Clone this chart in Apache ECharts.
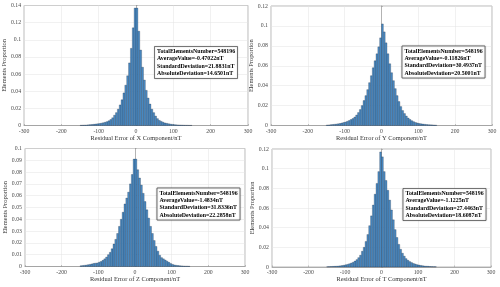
<!DOCTYPE html>
<html>
<head>
<meta charset="utf-8">
<script src="https://cdn.jsdelivr.net/npm/echarts@6/dist/echarts.min.js"></script>
<style>
html,body{margin:0;padding:0;background:#fff;}
#chart{width:500px;height:287px;}
</style>
</head>
<body>
<div id="chart"></div>
<script>
// Left edges of the 5 nT histogram bins
const binLeftEdges = [
  -150,-145,-140,-135,-130,-125,-120,-115,-110,-105,
  -100,-95,-90,-85,-80,-75,-70,-65,-60,-55,
  -50,-45,-40,-35,-30,-25,-20,-15,-10,-5,
  0,5,10,15,20,25,30,35,40,45,
  50,55,60,65,70,75,80,85,90,95,
  100,105,110,115,120,125,130,135,140,145
];
const binWidth = 5;

const xComponent = [
  0.0003,0.0004,0.0005,0.0006,0.0008,0.001,0.0012,0.0014,0.0017,0.002,
  0.0023,0.0027,0.0032,0.0038,0.0045,0.0055,0.007,0.009,0.012,0.015,
  0.019,0.024,0.03,0.038,0.047,0.058,0.073,0.09,0.114,0.137,
  0.137,0.11,0.088,0.068,0.053,0.041,0.032,0.025,0.019,0.015,
  0.011,0.008,0.006,0.0048,0.0038,0.003,0.0025,0.002,0.0016,0.0013,
  0.001,0.0008,0.0007,0.0006,0.0005,0.0004,0.0003,0.0003,0.0002,0.0002
];
const yComponent = [
  0.0005,0.0006,0.0008,0.001,0.0012,0.0014,0.0017,0.002,0.0025,0.003,
  0.0035,0.0042,0.005,0.006,0.007,0.0085,0.0105,0.013,0.016,0.02,
  0.025,0.03,0.036,0.043,0.05,0.058,0.065,0.072,0.079,0.088,
  0.102,0.094,0.083,0.072,0.062,0.053,0.045,0.037,0.03,0.024,
  0.019,0.015,0.012,0.0095,0.0075,0.006,0.0048,0.0038,0.003,0.0025,
  0.002,0.0017,0.0014,0.0012,0.001,0.0008,0.0007,0.0006,0.0005,0.0004
];
const zComponent = [
  0.0006,0.0008,0.001,0.0012,0.0015,0.0018,0.0022,0.0026,0.0028,0.003,
  0.0036,0.0043,0.0052,0.0065,0.008,0.01,0.012,0.015,0.019,0.023,
  0.028,0.034,0.04,0.046,0.053,0.058,0.063,0.07,0.078,0.091,
  0.091,0.082,0.075,0.069,0.062,0.055,0.048,0.041,0.034,0.028,
  0.022,0.017,0.013,0.0095,0.0075,0.0065,0.0055,0.0045,0.0035,0.0025,
  0.0018,0.0013,0.001,0.0008,0.0006,0.0005,0.0004,0.0003,0.0003,0.0002
];
const tComponent = [
  0.0003,0.0004,0.0005,0.0006,0.0007,0.0008,0.001,0.0012,0.0015,0.0018,
  0.0022,0.0027,0.0033,0.004,0.0048,0.006,0.0075,0.0095,0.012,0.016,
  0.02,0.026,0.033,0.042,0.052,0.063,0.074,0.085,0.097,0.117,
  0.112,0.097,0.088,0.078,0.068,0.058,0.048,0.038,0.03,0.023,
  0.018,0.014,0.011,0.0085,0.0068,0.0055,0.0045,0.0036,0.003,0.0024,
  0.002,0.0016,0.0013,0.001,0.0008,0.0007,0.0005,0.0004,0.0003,0.0003
];

const componentNames = ['X', 'Y', 'Z', 'T'];
const yMaxes = [0.14, 0.12, 0.1, 0.12];
const yIntervals = [0.02, 0.02, 0.01, 0.02];
const totalElements = ['548196', '548196', '548196', '548196'];
const averageValues = ['-0.47022nT', '-0.11826nT', '-1.4834nT', '-1.1225nT'];
const standardDeviations = ['21.8831nT', '30.4937nT', '31.8336nT', '27.4463nT'];
const absoluteDeviations = ['14.6501nT', '20.5001nT', '22.2858nT', '18.6087nT'];

const seriesValues = [xComponent, yComponent, zComponent, tComponent];

const grids = [
  {left: 22, top: 5.5, width: 226, height: 120},
  {left: 271, top: 6, width: 221, height: 119.5},
  {left: 25, top: 148.5, width: 220, height: 118},
  {left: 272, top: 149, width: 219, height: 118}
];
const boxes = [
  {left: 154, top: 46.5},
  {left: 401.5, top: 46},
  {left: 156.5, top: 188},
  {left: 402.5, top: 188.5}
];

const serif = '"Liberation Serif", "DejaVu Serif", serif';
const labelColor = '#4a4a4a';

const option = {
  animation: false,
  backgroundColor: '#fff',
  title: boxes.map((b, i) => ({
    left: b.left, top: b.top,
    text: ['TotalElementsNumber=' + totalElements[i],
           'AverageValue=' + averageValues[i],
           'StandardDeviation=' + standardDeviations[i],
           'AbsoluteDeviation=' + absoluteDeviations[i]].join('\n'),
    textStyle: {fontFamily: serif, fontSize: 5.9, fontWeight: 'bold', color: '#000', lineHeight: 7.3},
    backgroundColor: '#fff',
    borderColor: '#333',
    borderWidth: 0.6,
    padding: [1.5, 3, 1.5, 3],
    shadowColor: 'rgba(0,0,0,0.35)',
    shadowBlur: 1.5
  })),
  grid: grids.map(g => Object.assign({show: true, borderColor: '#8a8a8a', borderWidth: 0.6, backgroundColor: '#fff'}, g)),
  xAxis: grids.map((g, i) => ({
    type: 'value', gridIndex: i, min: -300, max: 300, interval: 100,
    name: 'Residual Error of ' + componentNames[i] + ' Component/nT',
    nameLocation: 'middle', nameGap: 8.5,
    nameTextStyle: {fontFamily: serif, fontSize: 6.4, color: '#333'},
    axisLine: {show: true, onZero: false, lineStyle: {color: '#8a8a8a', width: 0.6}},
    axisTick: {show: true, inside: true, length: 1.5, lineStyle: {color: '#8a8a8a', width: 0.5}},
    axisLabel: {fontFamily: serif, fontSize: 5.8, color: labelColor, margin: 2.5},
    splitLine: {show: true, lineStyle: {color: '#e3e3e3', width: 0.5}}
  })),
  yAxis: grids.map((g, i) => ({
    type: 'value', gridIndex: i, min: 0, max: yMaxes[i], interval: yIntervals[i],
    name: 'Elements Proportion',
    nameLocation: 'middle', nameGap: i % 2 === 0 ? 12 : 13,
    nameTextStyle: {fontFamily: serif, fontSize: 6.4, color: '#333'},
    axisLine: {show: true, lineStyle: {color: '#8a8a8a', width: 0.6}},
    axisTick: {show: true, inside: true, length: 1.5, lineStyle: {color: '#8a8a8a', width: 0.5}},
    axisLabel: {fontFamily: serif, fontSize: 5.8, color: labelColor, margin: 3},
    splitLine: {show: true, lineStyle: {color: '#e3e3e3', width: 0.5}}
  })),
  series: seriesValues.map((vals, i) => ({
    type: 'custom',
    xAxisIndex: i, yAxisIndex: i,
    data: binLeftEdges.map((e, k) => [e, e + binWidth, vals[k]]),
    encode: {x: [0, 1], y: 2},
    renderItem: function (params, api) {
      const p0 = api.coord([api.value(0), api.value(2)]);
      const p1 = api.coord([api.value(1), 0]);
      return {
        type: 'rect',
        shape: {x: p0[0], y: p0[1], width: p1[0] - p0[0], height: p1[1] - p0[1]},
        style: {fill: '#4a8cc6', stroke: 'rgba(20,30,45,0.7)', lineWidth: 0.35}
      };
    }
  }))
};

const chart = echarts.init(document.getElementById('chart'), null, {renderer: 'canvas'});
chart.setOption(option);
</script>
</body>
</html>
